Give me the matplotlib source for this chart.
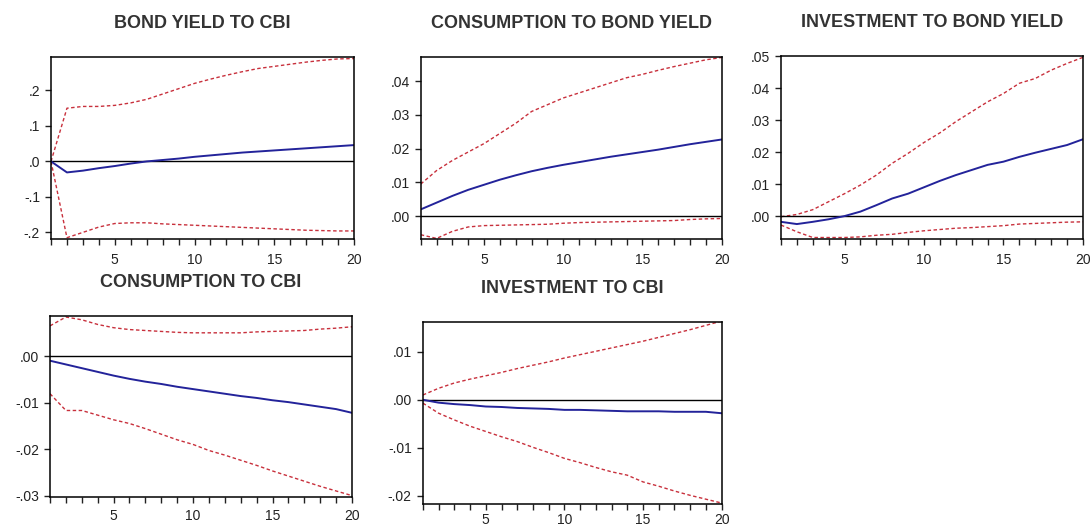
import numpy as np
import matplotlib.pyplot as plt
from matplotlib.ticker import FuncFormatter, FixedLocator

plt.rcParams['font.family'] = ['Liberation Sans', 'DejaVu Sans']

periods = list(range(1, 21))

# BOND YIELD TO CBI
by_cbi_resp = [0.0, -0.031, -0.026, -0.019, -0.013, -0.006, 0.0, 0.004, 0.008, 0.013,
               0.017, 0.021, 0.025, 0.028, 0.031, 0.034, 0.037, 0.040, 0.043, 0.046]
by_cbi_up = [0.0, 0.150, 0.155, 0.155, 0.158, 0.165, 0.175, 0.190, 0.205, 0.220,
             0.232, 0.243, 0.253, 0.262, 0.268, 0.274, 0.280, 0.285, 0.289, 0.290]
by_cbi_lo = [0.0, -0.215, -0.200, -0.185, -0.175, -0.173, -0.173, -0.176, -0.178, -0.180,
             -0.182, -0.184, -0.186, -0.188, -0.190, -0.192, -0.194, -0.195, -0.196, -0.196]

# CONSUMPTION TO BOND YIELD
c_by_resp = [0.002, 0.004, 0.006, 0.0078, 0.0093, 0.0108, 0.0121, 0.0133, 0.0143, 0.0152,
             0.016, 0.0168, 0.0176, 0.0183, 0.019, 0.0197, 0.0205, 0.0213, 0.022, 0.0227]
c_by_up = [0.0095, 0.0135, 0.0165, 0.019, 0.0215, 0.0245, 0.0275, 0.031, 0.033, 0.035,
           0.0365, 0.038, 0.0395, 0.041, 0.042, 0.0432, 0.0443, 0.0453, 0.0463, 0.047]
c_by_lo = [-0.0055, -0.0066, -0.0045, -0.0032, -0.0028, -0.0027, -0.0026, -0.0025, -0.0024, -0.0021,
           -0.0019, -0.0018, -0.0017, -0.0016, -0.0015, -0.0014, -0.0013, -0.0010, -0.0008, -0.0007]

# INVESTMENT TO BOND YIELD
i_by_resp = [-0.0018, -0.0025, -0.0018, -0.001, 0.0, 0.0014, 0.0034, 0.0055, 0.007, 0.009,
             0.011, 0.0128, 0.0144, 0.016, 0.017, 0.0185, 0.0198, 0.021, 0.0222, 0.024]
i_by_up = [-0.0002, 0.0005, 0.002, 0.0045, 0.007, 0.0097, 0.0128, 0.0165, 0.0196, 0.023,
           0.026, 0.0295, 0.0326, 0.0357, 0.0383, 0.0415, 0.043, 0.0456, 0.0477, 0.0496]
i_by_lo = [-0.0028, -0.0049, -0.0067, -0.0067, -0.0067, -0.0065, -0.006, -0.0057, -0.0051, -0.0046,
           -0.0042, -0.0038, -0.0036, -0.0033, -0.003, -0.0025, -0.0023, -0.0021, -0.0019, -0.0018]

# CONSUMPTION TO CBI
c_cbi_resp = [-0.001, -0.0018, -0.0026, -0.0034, -0.0042, -0.0049, -0.0055, -0.006, -0.0066, -0.0071,
              -0.0076, -0.0081, -0.0086, -0.009, -0.0095, -0.0099, -0.0104, -0.0109, -0.0114, -0.0122]
c_cbi_up = [0.0065, 0.0084, 0.0078, 0.0068, 0.0061, 0.0057, 0.0055, 0.0053, 0.0051, 0.005,
            0.005, 0.005, 0.005, 0.0052, 0.0053, 0.0054, 0.0055, 0.0058, 0.006, 0.0063]
c_cbi_lo = [-0.0081, -0.0117, -0.0117, -0.0127, -0.0137, -0.0145, -0.0156, -0.0168, -0.018, -0.019,
            -0.0203, -0.0213, -0.0224, -0.0235, -0.0247, -0.0258, -0.0269, -0.028, -0.029, -0.030]

# INVESTMENT TO CBI
i_cbi_resp = [0.0, -0.0006, -0.0009, -0.0011, -0.0014, -0.0015, -0.0017, -0.0018, -0.0019, -0.0021,
              -0.0021, -0.0022, -0.0023, -0.0024, -0.0024, -0.0024, -0.0025, -0.0025, -0.0025, -0.0028]
i_cbi_up = [0.001, 0.0024, 0.0035, 0.0043, 0.005, 0.0057, 0.0065, 0.0072, 0.0079, 0.0087,
            0.0094, 0.0101, 0.0108, 0.0115, 0.0122, 0.013, 0.0138, 0.0146, 0.0155, 0.0164]
i_cbi_lo = [-0.0007, -0.0028, -0.0042, -0.0055, -0.0066, -0.0077, -0.0087, -0.0099, -0.011, -0.0122,
            -0.0131, -0.0141, -0.015, -0.0157, -0.0171, -0.018, -0.019, -0.0199, -0.0207, -0.0215]

panels = [
    ("BOND YIELD TO CBI", by_cbi_resp, by_cbi_up, by_cbi_lo,
     [0.0468, 0.548, 0.278, 0.344], (-0.219, 0.294), [-0.2, -0.1, 0.0, 0.1, 0.2], 1, 6),
    ("CONSUMPTION TO BOND YIELD", c_by_resp, c_by_up, c_by_lo,
     [0.386, 0.548, 0.276, 0.344], (-0.0068, 0.0471), [0.0, 0.01, 0.02, 0.03, 0.04], 2, 6),
    ("INVESTMENT TO BOND YIELD", i_by_resp, i_by_up, i_by_lo,
     [0.7165, 0.548, 0.277, 0.346], (-0.0072, 0.050), [0.0, 0.01, 0.02, 0.03, 0.04, 0.05], 2, 6),
    ("CONSUMPTION TO CBI", c_cbi_resp, c_cbi_up, c_cbi_lo,
     [0.0459, 0.0605, 0.277, 0.342], (-0.0303, 0.0086), [-0.03, -0.02, -0.01, 0.0], 2, 5),
    ("INVESTMENT TO CBI", i_cbi_resp, i_cbi_up, i_cbi_lo,
     [0.388, 0.0473, 0.274, 0.344], (-0.0217, 0.0162), [-0.02, -0.01, 0.0, 0.01], 2, 2.5),
]


def no_lead_zero(dec):
    def f(v, pos):
        s = f"{v:.{dec}f}"
        if s.startswith("-0"):
            s = "-" + s[2:]
        elif s.startswith("0"):
            s = s[1:]
        if s.startswith("-") and float(s) == 0:
            s = s[1:]
        return s
    return FuncFormatter(f)


fig = plt.figure(figsize=(10.9, 5.29), dpi=100)

for title, resp, up, lo, pos, ylim, yt, dec, xpad in panels:
    ax = fig.add_axes(pos)
    ax.plot(periods, up, color="#c8303c", lw=1.0, ls=(0, (2.5, 1.8)))
    ax.plot(periods, lo, color="#c8303c", lw=1.0, ls=(0, (2.5, 1.8)))
    ax.axhline(0, color="black", lw=1.0)
    ax.plot(periods, resp, color="#23239a", lw=1.4)
    ax.set_xlim(1, 20)
    ax.set_ylim(*ylim)
    ax.xaxis.set_major_locator(FixedLocator([5, 10, 15, 20]))
    ax.xaxis.set_minor_locator(FixedLocator(periods))
    ax.set_yticks(yt)
    ax.yaxis.set_major_formatter(no_lead_zero(dec))
    ax.tick_params(axis="both", which="both", direction="out", length=4, width=1,
                   labelsize=10, colors="#222222", pad=4)
    ax.tick_params(axis="x", which="both", top=False, pad=xpad)
    ax.tick_params(axis="y", right=False)
    for sp in ax.spines.values():
        sp.set_linewidth(1.1)
    ax.set_title(title, fontsize=13, fontweight="bold", color="#333333", pad=21)

fig.savefig("out.png", dpi=100)
